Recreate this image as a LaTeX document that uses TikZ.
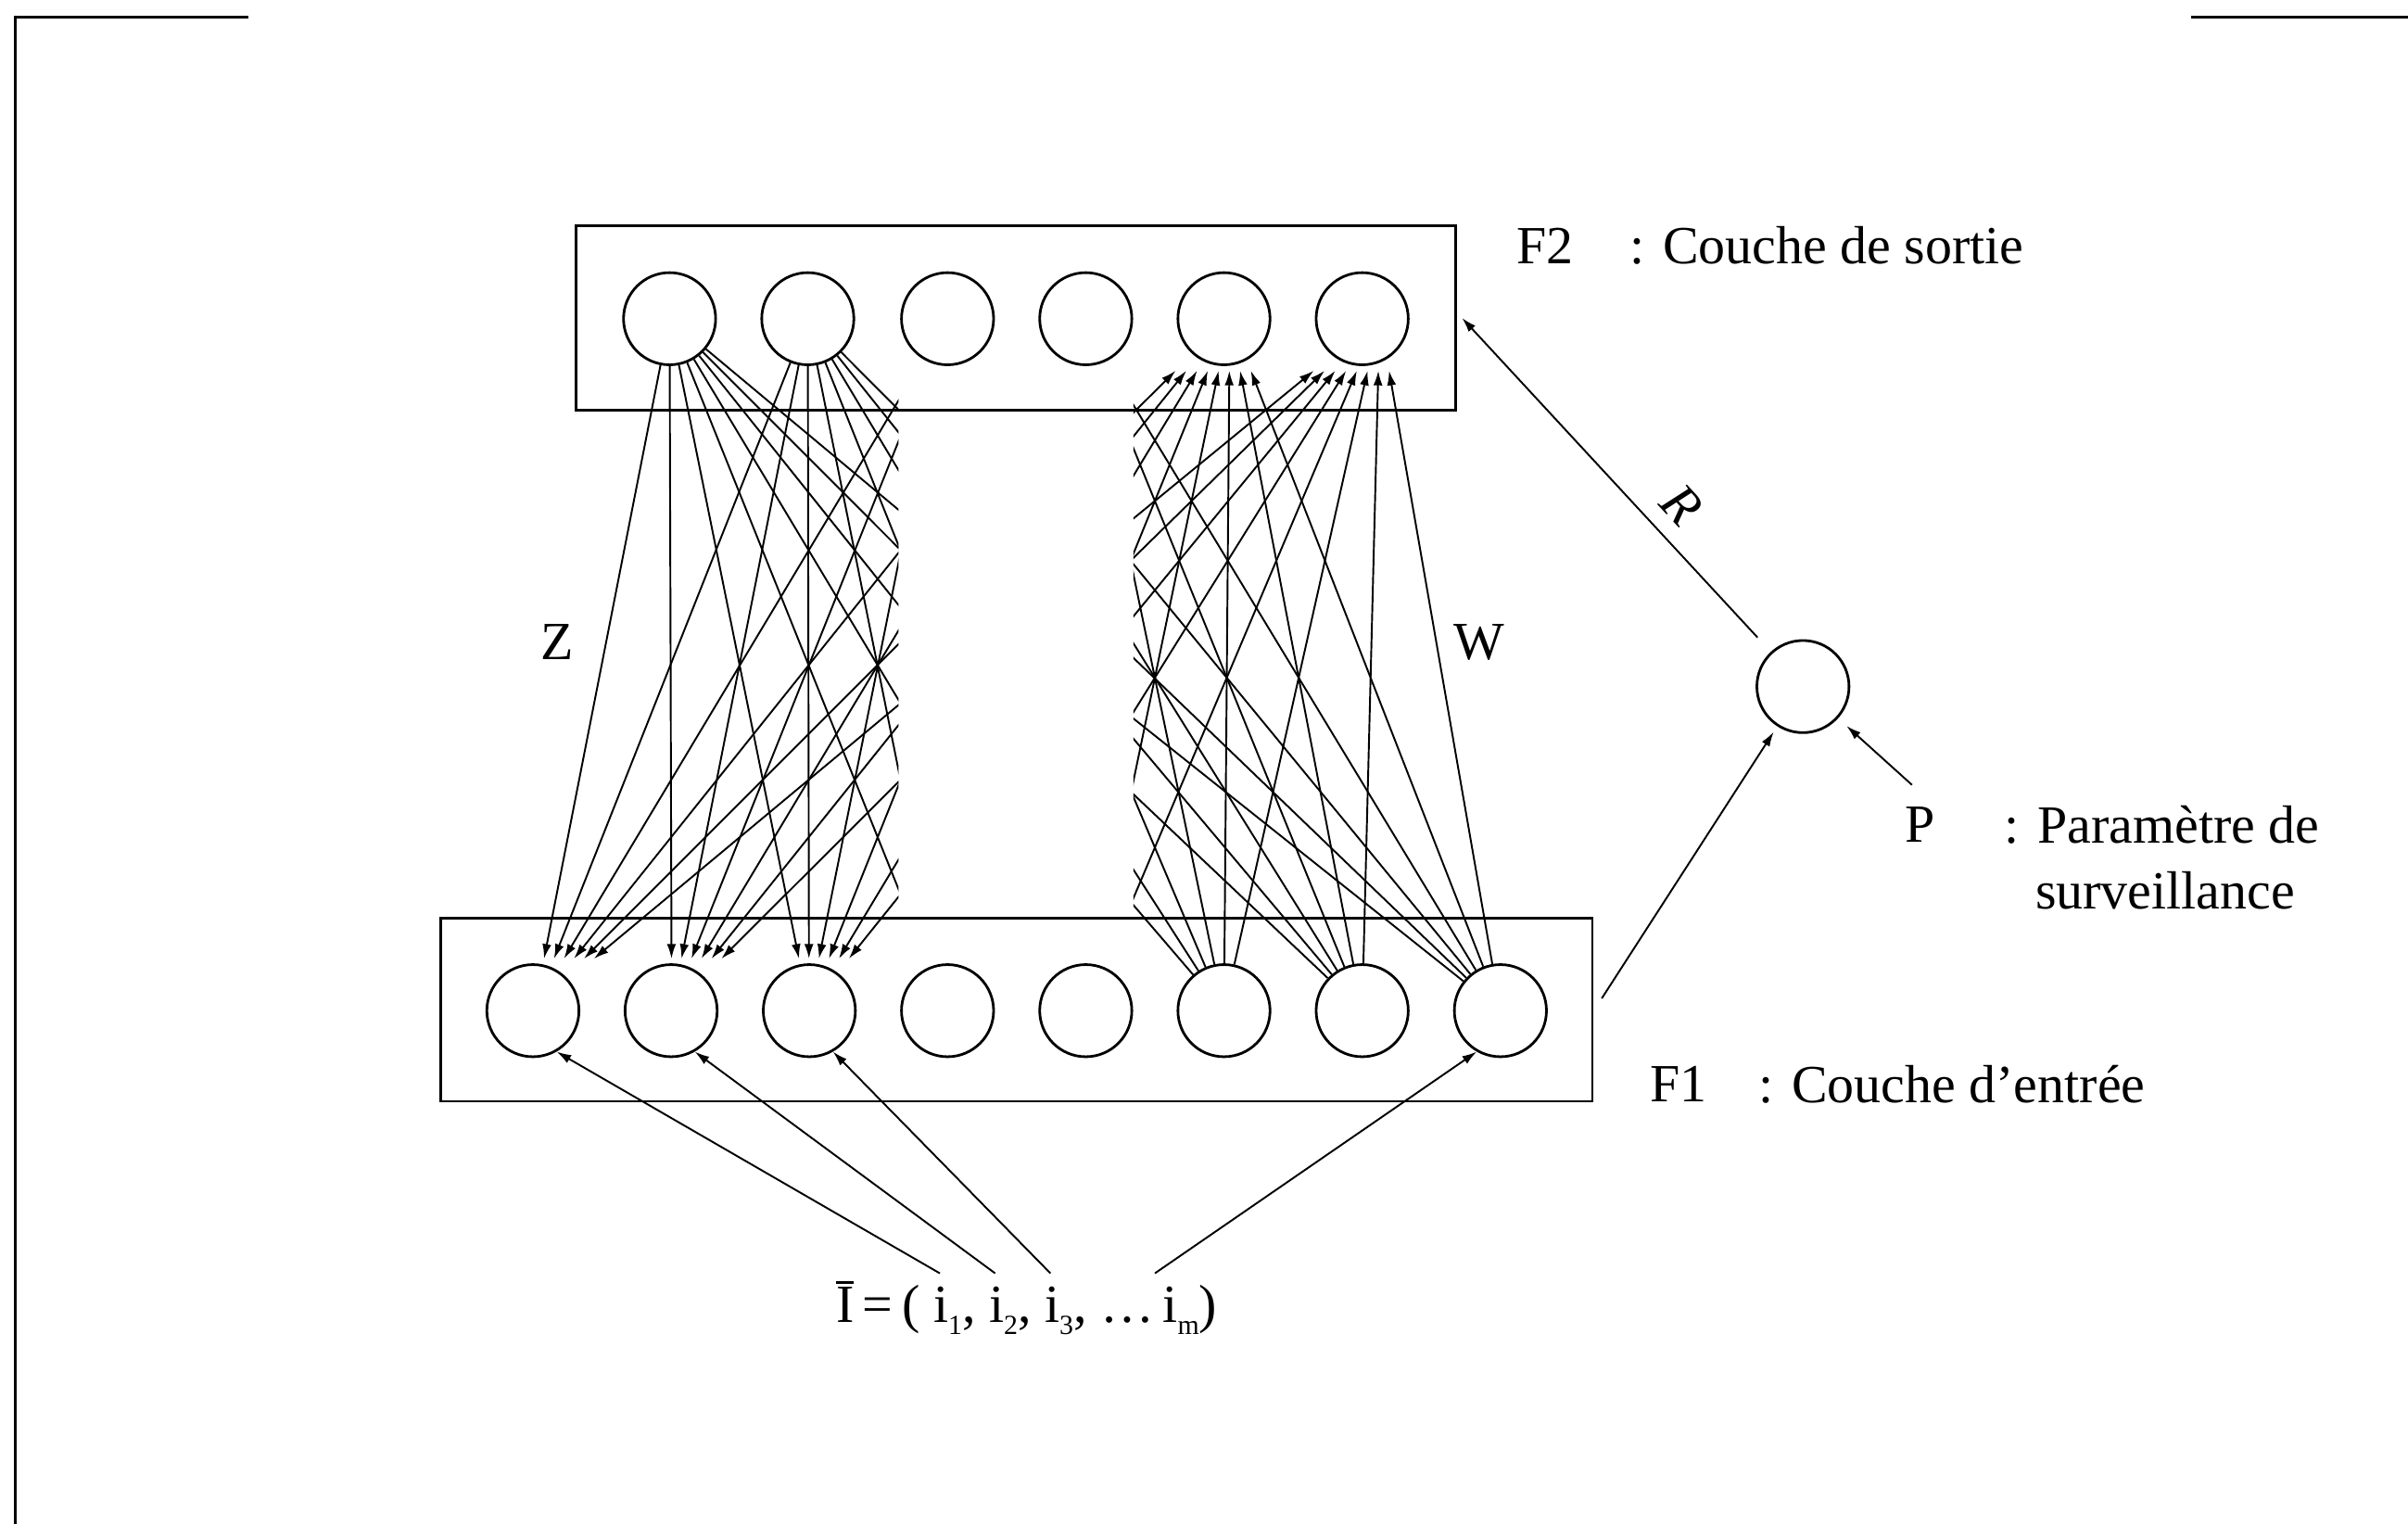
\documentclass[tikz,border=0pt]{standalone}
\usepackage{fontspec}
\setmainfont{Liberation Serif}
\usetikzlibrary{arrows.meta,calc}
\newcommand{\isub}[1]{\raisebox{-0.22em}{\fontsize{8.5}{9}\selectfont #1}}
\begin{document}
\begin{tikzpicture}[x=0.016582cm,y=-0.016582cm,
  neuron/.style={circle,draw,line width=0.8pt,minimum size=0.995cm,inner sep=0pt},
  layerbox/.style={draw,line width=0.8pt,inner sep=0pt},
  conn/.style={line width=0.55pt},
  tip/.style={-{Latex[length=4.5pt,width=2.8pt]}},
  lbl/.style={font=\fontsize{16.5}{20}\selectfont,inner sep=0pt},
]
\useasboundingbox (0,0) rectangle (1568,992);
% page marks
\draw[line width=0.8pt] (10,992) -- (10,11) -- (162,11);
\draw[line width=0.8pt] (1427,11) -- (1568,11);
% layer boxes
\node[layerbox,minimum width=9.502cm,minimum height=1.990cm] (F2box) at (661.5,207) {};
\node[layerbox,minimum width=12.437cm,minimum height=1.973cm] (F1box) at (662,657.5) {};
% neurons
\foreach \x [count=\k] in {436,526,617,707,797,887}
  \node[neuron] (t\k) at (\x,207.5) {};
\foreach \x [count=\k] in {347,437,527,617,707,797,887,977}
  \node[neuron] (b\k) at (\x,658) {};
% Z connections (top-down), left part
\begin{scope}
\clip (0,0) rectangle (585,992);
\foreach \i in {1,...,6}{\foreach \j in {1,...,8}{
  \draw[conn,tip] (t\i) -- ($(b\j.north)+({(\i-0.5)*6.5+4-7*(\j-1)},-3)$);
}}
\end{scope}
% W connections (bottom-up), right part
\begin{scope}
\clip (738,0) rectangle (1568,992);
\foreach \i in {1,...,6}{\foreach \j in {1,...,8}{
  \draw[conn,tip] (b\j) -- ($(t\i.south)+({(\j-5.5)*7},3)$);
}}
\end{scope}
\node[lbl] (Z) at (363,418) {Z};
\node[lbl] (W) at (963,418) {W};
% layer labels
\node[lbl] (F2) at (1006,160) {F2};
\node[lbl,anchor=base west] (F2t) at (1061,172) {: Couche de sortie};
\node[lbl] (F1) at (1093,706) {F1};
\node[lbl,anchor=base west] (F1t) at (1145,718) {: Couche d’entrée};
% vigilance
\node[neuron] (fb) at (1174,447) {};
\coordinate (fbin) at (1043,650);
\draw[conn,tip,shorten >=2pt] (fbin) -- (fb);
\coordinate (rend) at (952,207);
\draw[conn,tip,shorten <=6pt] (fb) -- (rend) node[lbl,pos=0.37,sloped,above=5pt] (R) {\textit{R}};
\node[lbl] (P) at (1250,537) {P};
\coordinate (pin) at (1245,511);
\draw[conn,tip,shorten >=3.5pt] (pin) -- (fb);
\node[lbl,anchor=base west] (Pt) at (1305,549) {: Paramètre de};
\node[lbl,anchor=base west] (Pt2) at (1325,592) {surveillance};
% input vector
\node[lbl,anchor=base west] (inp) at (544,861) {\makebox[0pt][l]{\raisebox{0.72em}{\rule{0.32em}{0.7pt}}}I\,=\,( i\isub{1}, i\isub{2}, i\isub{3}, \dots\,i\isub{m})};
\coordinate (i1) at (612,829);
\coordinate (i2) at (648,829);
\coordinate (i3) at (684,829);
\coordinate (im) at (752,829);
\draw[conn,tip] (i1) -- (b1.-60);
\draw[conn,tip] (i2) -- (b2.-60);
\draw[conn,tip] (i3) -- (b3.-60);
\draw[conn,tip] (im) -- (b8.-120);
\end{tikzpicture}
\end{document}
